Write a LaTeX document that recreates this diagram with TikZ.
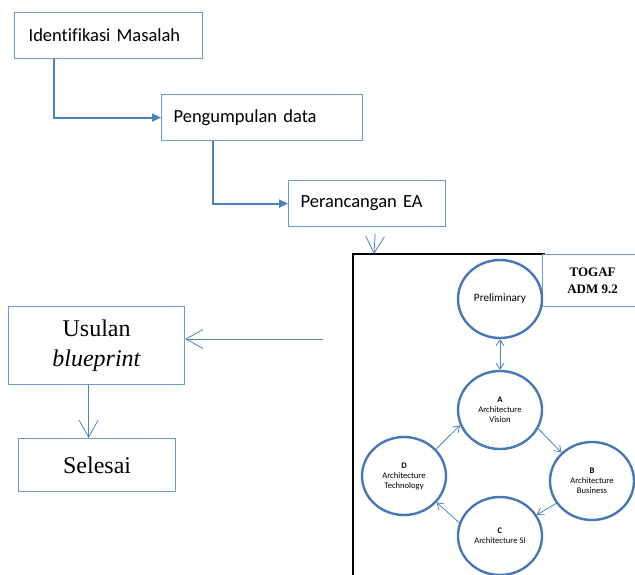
\documentclass[tikz,border=0pt]{standalone}
\usepackage{fontspec}
\setmainfont{Liberation Serif}
\newfontfamily\calibri[Ligatures=NoCommon]{Carlito}
\usetikzlibrary{arrows.meta,shapes.geometric}
\definecolor{Cbox}{HTML}{6A98D0}
\definecolor{Cline}{HTML}{4F81BD}
\definecolor{Ccirc}{HTML}{4677B8}

\begin{document}
\begin{tikzpicture}[x=1pt, y=-1pt,
		flowbox/.style={draw=Cbox, line width=1.2pt, anchor=north west, align=left,
			minimum height=46pt, inner xsep=12pt,
			font=\calibri\fontsize{18.5}{22}\selectfont},
		endbox/.style={draw=Cbox, line width=1.2pt, anchor=north west, align=center,
			inner sep=0pt, font=\fontsize{24}{30}\selectfont},
		phase/.style={draw=Ccirc, line width=2.4pt, ellipse, inner sep=0pt,
			minimum width=84pt, minimum height=78pt, align=center,
			font=\calibri\fontsize{8.6}{10}\selectfont},
		flowarrow/.style={draw=Cline, line width=1.8pt, -{Triangle[length=9pt,width=8pt]}},
		openarrow/.style={draw=Cline, line width=0.8pt, -{Straight Barb[length=17pt,width=19pt]}},
		cyclearrow/.style={draw=Cline, line width=0.8pt, -{Straight Barb[length=6pt,width=8pt]}}]
		
		\useasboundingbox (0,0) rectangle (635,574);
		
		%% ── flow on the left ──────────────────────────────────────────
		\node[flowbox, text width=160pt, inner xsep=14pt] (identifikasi) at (14,12)  {Identifikasi Masalah};
		\node[flowbox, text width=177pt] (pengumpulan) at (161,94)  {Pengumpulan data};
		\node[flowbox, text width=133pt] (perancangan) at (288,180) {Perancangan EA};
		
		\draw[flowarrow] ([xshift=-55pt]identifikasi.south) |- (pengumpulan.west);
		\draw[flowarrow] ([xshift=-49.5pt]pengumpulan.south) |- (perancangan.west);
		
		\node[endbox, minimum width=176pt, minimum height=78pt] (usulan) at (8,306)
		{Usulan\\\textit{blueprint}};
		\node[endbox, minimum width=157pt, minimum height=53pt] (selesai) at (18,438)
		{Selesai};
		
		\draw[openarrow] ([xshift=-8pt]usulan.south) -- ([xshift=-8pt]usulan.south |- selesai.north);
		
		%% ── TOGAF ADM frame ───────────────────────────────────────────
		\coordinate (frametop) at (374,254);
		\draw[black, line width=1.4pt] (353,580) -- (353,254) -- (545,254);
		\node[draw=Cbox, line width=1.2pt, anchor=north west, minimum width=100pt,
		minimum height=52pt, align=center, font=\bfseries\fontsize{13}{17}\selectfont]
		(togaf) at (542,254) {TOGAF\\ADM 9.2};
		
		\draw[openarrow] ([xshift=8pt,yshift=-7pt]perancangan.south) -- (frametop);
		
		\coordinate (kembali) at (323,339);
		\draw[openarrow] (kembali) -- (kembali -| usulan.east);
		
		%% ── phases ────────────────────────────────────────────────────
		\node[phase, font=\calibri\fontsize{11.2}{13}\selectfont] (pre) at (500,299) {Preliminary};
		\node[phase] (pa) at (500,410) {\textbf{A}\\Architecture\\Vision};
		\node[phase] (pb) at (592,481) {\textbf{B}\\Architecture\\Business};
		\node[phase] (pc) at (500,536) {\textbf{C}\\Architecture SI};
		\node[phase] (pd) at (404,476) {\textbf{D}\\Architecture\\Technology};
		
		\draw[cyclearrow, {Straight Barb[length=6pt,width=8pt]}-{Straight Barb[length=6pt,width=8pt]}]
		(pre.south) -- (pa.north);
		\draw[cyclearrow] (pa.-26)  -- (pb.137);
		\draw[cyclearrow] (pb.212)  -- (pc.30);
		\draw[cyclearrow] (pc.162)  -- (pd.-39);
		\draw[cyclearrow] (pd.40)   -- (pa.201);
		
\end{tikzpicture}
\end{document}
